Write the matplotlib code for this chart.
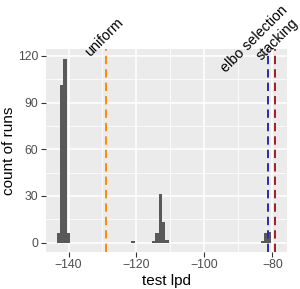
import matplotlib
matplotlib.use("Agg")
import matplotlib.pyplot as plt
from matplotlib.ticker import MultipleLocator

plt.rcParams['font.family'] = ['Liberation Sans', 'DejaVu Sans']

# histogram bins (left edge, width 1) and counts
bin_left = [-143.5, -142.5, -141.5, -140.5, -121.5,
            -115.5, -114.5, -113.5, -112.5, -111.5,
            -83.5, -82.5, -81.5]
counts = [6, 101, 118, 6, 1,
          1, 6, 31, 13, 2,
          1, 6, 7]

# reference lines
ref_names = ["uniform", "elbo selection", "stacking"]
ref_x = [-128.9, -81.35, -79.2]
ref_colors = ["#FF8C00", "#2B2BA6", "#A11D1D"]
# label centres (data coords)
lab_x = [-129.6, -85.3, -78.7]
lab_y = [131.9, 130.6, 130.7]

fig = plt.figure(figsize=(3.0, 2.89), dpi=100)
ax = fig.add_axes([0.153, 0.129, 0.805, 0.701])
ax.set_facecolor("#EBEBEB")

ax.bar(bin_left, counts, width=1.0, align="edge", color="#595959",
       edgecolor="none", zorder=2)

for x, c in zip(ref_x, ref_colors):
    ax.axvline(x, color=c, lw=1.4, dashes=(4.3, 2.6), zorder=3)

for name, x, y in zip(ref_names, lab_x, lab_y):
    ax.text(x, y, name, rotation=45, ha="center", va="center",
            rotation_mode="anchor", fontsize=10.3, color="black",
            clip_on=False)

ax.set_xlim(-146.65, -75.6)
ax.set_ylim(-5.8, 124.3)
ax.xaxis.set_major_locator(MultipleLocator(20))
ax.xaxis.set_minor_locator(MultipleLocator(10))
ax.yaxis.set_major_locator(MultipleLocator(30))
ax.yaxis.set_minor_locator(MultipleLocator(15))
ax.set_xticks([-140, -120, -100, -80])
ax.set_xticklabels(["\u2212140", "\u2212120", "\u2212100", "\u221280"])

ax.grid(which="major", color="white", lw=1.1, zorder=0)
ax.grid(which="minor", color="white", lw=0.55, zorder=0)
ax.set_axisbelow(True)
for s in ax.spines.values():
    s.set_visible(False)

ax.tick_params(which="major", length=3.5, width=0.8, color="#333333",
               labelsize=8.8, labelcolor="#4D4D4D", pad=2)
ax.tick_params(which="minor", length=0)

ax.set_xlabel("test lpd", fontsize=11, labelpad=2)
ax.set_ylabel("count of runs", fontsize=11, labelpad=1)

fig.savefig("out.png", dpi=100)
